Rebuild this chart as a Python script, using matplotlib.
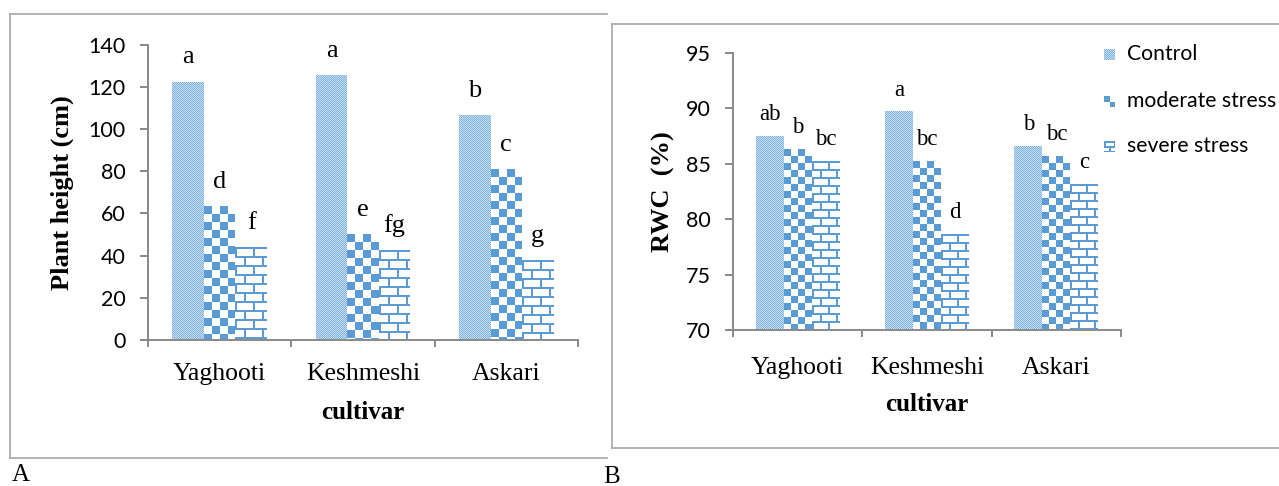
import numpy as np
import matplotlib.pyplot as plt
from matplotlib.lines import Line2D
from matplotlib.transforms import Bbox

cultivars = ['Yaghooti', 'Keshmeshi', 'Askari']
treatments = ['Control', 'moderate stress', 'severe stress']

# panel A - plant height (cm)
height_control = [122.5, 125.5, 106.5]
height_moderate = [63.5, 50, 81]
height_severe = [44, 42.5, 38]
height_letters = [['a', 'a', 'b'], ['d', 'e', 'c'], ['f', 'fg', 'g']]

# panel B - RWC (%)
rwc_control = [87.5, 89.7, 86.6]
rwc_moderate = [86.3, 85.2, 85.7]
rwc_severe = [85.25, 78.65, 83.15]
rwc_letters = [['ab', 'a', 'b'], ['b', 'bc', 'bc'], ['bc', 'd', 'c']]

W, H = 1279, 486
blue = np.array([0x5B, 0x9B, 0xD5]) / 255
dot_dark = np.array([0x80, 0xB2, 0xE0]) / 255
dot_light = np.array([0xC6, 0xDD, 0xF3]) / 255
white = np.ones(3)
axis_grey = '#898989'
serif = ['Liberation Serif', 'DejaVu Serif']
sans = ['Lato', 'DejaVu Sans']


def texture(kind, h, w, cell=8):
    yy, xx = np.mgrid[0:h, 0:w]
    if kind == 'fine':
        m = (yy + xx) % 2 == 0
        return np.where(m[..., None], dot_dark, dot_light)
    if kind == 'check':
        m = (yy // cell + xx // cell) % 2 == 0
        return np.where(m[..., None], blue, white)
    row = yy // cell
    hline = (yy % cell) < 2
    vline = ((xx + (row % 2) * cell) % (2 * cell)) < 2
    return np.where((hline | vline)[..., None], blue, white)


def fill_bars(ax, bars, kind, cell):
    # paint the pattern pixel for pixel over each bar's own box
    for b in bars:
        bb = Bbox.intersection(b.get_window_extent(), ax.bbox)
        if bb is None:
            continue
        x0, x1 = int(round(bb.x0)), int(round(bb.x1))
        y0, y1 = int(round(bb.y0)) + 1, int(round(bb.y1))
        if x1 <= x0 or y1 <= y0:
            continue
        ax.figure.figimage(texture(kind, y1 - y0, x1 - x0, cell), xo=x0, yo=y0,
                           origin='upper', zorder=1)


def px(x0, y0, x1, y1):
    # pixel box (from top-left) -> figure fraction rect
    return [x0 / W, 1 - y1 / H, (x1 - x0) / W, (y1 - y0) / H]


def panel(ax, series, letters, ylim, ystep, width, ylabel, lab_font,
          lab_off, cells, ylab_x, xlab_y, xpad):
    x = np.arange(len(cultivars))
    ax.set_xlim(-0.5, len(cultivars) - 0.5)
    ax.set_ylim(*ylim)
    kinds = ['fine', 'check', 'brick']
    for k, vals in enumerate(series):
        pos = x + (k - 1) * width
        bars = ax.bar(pos, vals, width, color='none', edgecolor='none')
        fill_bars(ax, bars, kinds[k], cells[k])
        for p, v, t in zip(pos, vals, letters[k]):
            ax.annotate(t, (p, v), xytext=(0, lab_off), textcoords='offset points',
                        ha='center', va='baseline', fontsize=lab_font,
                        family=serif)
    for s in ['top', 'right']:
        ax.spines[s].set_visible(False)
    for s in ['left', 'bottom']:
        ax.spines[s].set_color(axis_grey)
        ax.spines[s].set_linewidth(1.4)
    ax.set_yticks(np.arange(ylim[0], ylim[1] + 0.1, ystep))
    ax.tick_params(axis='y', direction='out', length=6, width=1.4,
                   color=axis_grey, pad=10, labelsize=15.5)
    for t in ax.get_yticklabels():
        t.set_family(sans)
    ax.set_xticks(np.arange(-0.5, len(cultivars)))
    ax.set_xticklabels([])
    ax.set_xticks(x, minor=True)
    ax.set_xticklabels(cultivars, minor=True, family=serif, fontsize=18.5)
    ax.tick_params(axis='x', which='major', direction='out', length=5,
                   width=1.4, color=axis_grey)
    ax.tick_params(axis='x', which='minor', length=0, pad=xpad)
    ax.set_ylabel(ylabel, family=serif, fontweight='bold', fontsize=19,
                  va='center', ha='center')
    ax.yaxis.set_label_coords(ylab_x, 0.5)
    ax.set_xlabel('cultivar', family=serif, fontweight='bold', fontsize=18,
                  va='center', ha='center')
    ax.xaxis.set_label_coords(0.5, xlab_y)


fig = plt.figure(figsize=(W / 100, H / 100), dpi=100)

axA = fig.add_axes(px(148, 44.6, 578, 340))
panel(axA, [height_control, height_moderate, height_severe], height_letters,
      (0, 140), 20, 0.22, 'Plant height (cm)', 19, 13, [1, 8, 9], -0.20, -0.245, 16.5)

axB = fig.add_axes(px(733, 52.7, 1121, 330))
panel(axB, [rwc_control, rwc_moderate, rwc_severe], rwc_letters,
      (70, 95), 5, 0.217, 'RWC  (%)', 16.5, 11.5, [1, 7, 8], -0.18, -0.268, 19.5)

# chart frames
frame = dict(color='#A6A6A6', lw=1.2)
for (xs, ys) in [([10, 10], [14, 458]), ([10, 607], [14, 14]), ([10, 607], [458, 458]),
                 ([612, 612], [24, 448]), ([612, 1279], [24, 24]), ([612, 1279], [448, 448])]:
    fig.add_artist(Line2D([v / W for v in xs], [1 - v / H for v in ys], **frame))

# legend for panel B
leg_y = [54, 101, 146]
leg_kind = [('fine', 1), ('check', 6), ('brick', 5)]
for name, yc, (kind, cell) in zip(treatments, leg_y, leg_kind):
    fig.figimage(texture(kind, 11, 11, cell), xo=1104, yo=int(H - yc - 5.5),
                 origin='upper', zorder=3)
    fig.text(1127 / W, 1 - yc / H, name, family=sans, fontsize=15.2,
             va='center', ha='left')

fig.text(12 / W, 1 - 475 / H, 'A', family=serif, fontsize=18, va='center')
fig.text(603 / W, 1 - 477 / H, 'B', family=serif, fontsize=18, va='center')

fig.savefig('out.png', dpi=100)
